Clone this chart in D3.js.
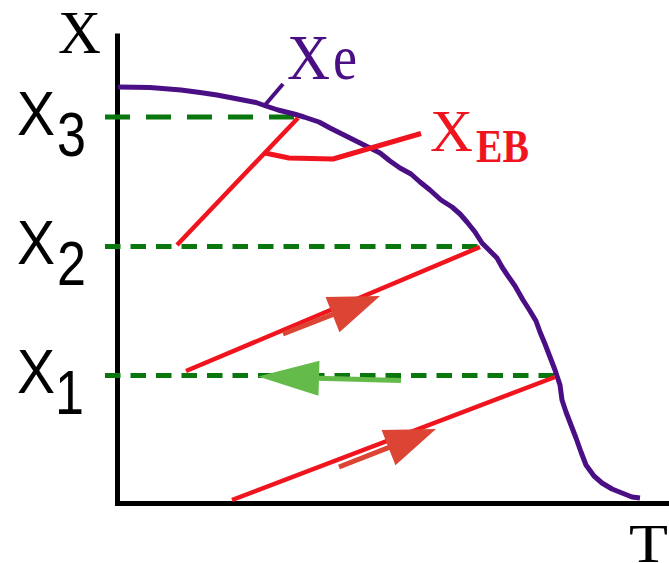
<!DOCTYPE html>
<html>
<head>
<meta charset="utf-8">
<script src="https://cdn.jsdelivr.net/npm/d3@7"></script>
<style>
  html, body { margin: 0; padding: 0; background: #fff; }
  svg { display: block; }
</style>
</head>
<body>
<svg id="chart" width="669" height="563"></svg>
<script>
// Moisture content X versus temperature T: equilibrium curve Xe,
// operating lines and the characteristic levels X1, X2, X3.

// Characteristic levels on the X axis
const levelNames = ["X", "X", "X"];
const levelSubs = ["1", "2", "3"];
const levelValues = [25.5, 51.3, 77.2];
const levelEndT = [87.6, 72.6, 36.8];

// Equilibrium curve Xe(T)
const curveT = [0.2, 6.6, 12.8, 16.6, 20, 22.6, 25.2, 27.8, 29.8, 32.2, 35.4, 37.4,
  40.4, 42.6, 44.6, 46.6, 48.6, 50.6, 52.6, 54.6, 56.6, 58.8, 60.6, 62.6, 64.8, 67,
  68.6, 70, 71.6, 73, 74.6, 76, 77, 78.2, 79.6, 81.2, 82.6, 83.8, 84.6, 85.6, 86.6,
  87.6, 88.6, 89, 89.8, 90.8, 91.8, 92.8, 93.8, 95.4, 97, 99, 101, 103, 104.6];
const curveX = [83.2, 83.1, 82.6, 82.1, 81.6, 81.1, 80.6, 80.1, 79.4, 78.6, 77.8, 77.2,
  76.2, 75, 74, 73, 72, 71, 70, 68.4, 67, 65.8, 64.2, 62.6, 60.6, 59.2,
  57.8, 56.2, 54.2, 52, 50.4, 49, 47.2, 45.4, 43.4, 40.6, 38.4, 36.4, 34.2, 31.8, 29.2,
  26.6, 23.6, 20.6, 18.2, 15.6, 13, 10.2, 7.6, 5.4, 4, 2.8, 2, 1.2, 1];

// Leader from the Xe label to the curve
const xeLeaderT = [33.2, 29.6];
const xeLeaderX = [83.8, 79.6];

// Operating lines (red)
const line1T = [23.0, 87.6];
const line1X = [0.6, 25.2];
const line2T = [13.8, 72.6];
const line2X = [26.4, 51.2];
const line3T = [12.0, 36.2];
const line3X = [51.6, 77.0];

// Leader from the XEB label to line 3
const ebLeaderT = [29.6, 34.4, 43.2, 60.8];
const ebLeaderX = [70.0, 69.0, 68.8, 73.9];

// Direction arrows: start point and tip
const arrowFromT = [44.4, 33.2, 56.8];
const arrowFromX = [7.2, 33.8, 24.5];
const arrowTipT = [63.8, 52.6, 28.2];
const arrowTipX = [14.8, 41.4, 25.3];
const arrowKind = ["up", "up", "back"];

// ---- drawing ----
const svg = d3.select("#chart");
const x = d3.scaleLinear().domain([0, 110.4]).range([117, 669]);
const y = d3.scaleLinear().domain([0, 94]).range([503, 33]);

const C = {
  axis: "#000",
  curve: "#4b0f85",
  red: "#f0141e",
  arrow: "#dc4433",
  back: "#64bb4a",
  level: "#0a760e"
};
const levelDash = ["15.5 10", "15.5 10", "25 16"];

const line = d3.line().x(d => x(d[0])).y(d => y(d[1]));
const zipPts = (ts, xs) => ts.map((t, i) => [t, xs[i]]);

// Axes (domain lines only)
const yAxis = d3.axisLeft(y).tickValues([]).tickSizeOuter(0);
const xAxis = d3.axisBottom(x).tickValues([]).tickSizeOuter(0);
svg.append("g").attr("transform", `translate(${x(0)},0)`).call(yAxis)
  .call(g => g.select(".domain").attr("stroke", C.axis).attr("stroke-width", 5));
svg.append("g").attr("transform", `translate(0,${y(0)})`).call(xAxis)
  .call(g => g.select(".domain").attr("stroke", C.axis).attr("stroke-width", 5)
    .attr("stroke-linecap", "square"));

// Dashed level lines
svg.append("g").selectAll("line").data(levelValues).join("line")
  .attr("x1", x(-2.4)).attr("x2", (d, i) => x(levelEndT[i]))
  .attr("y1", d => y(d)).attr("y2", d => y(d))
  .attr("stroke", C.level).attr("stroke-width", 5)
  .attr("stroke-dasharray", (d, i) => levelDash[i]);

// Equilibrium curve
svg.append("path").datum(zipPts(curveT, curveX))
  .attr("d", line).attr("fill", "none")
  .attr("stroke", C.curve).attr("stroke-width", 5).attr("stroke-linejoin", "round");
svg.append("path").datum(zipPts(xeLeaderT, xeLeaderX))
  .attr("d", line).attr("fill", "none")
  .attr("stroke", C.curve).attr("stroke-width", 4);

// Operating lines
[[line1T, line1X], [line2T, line2X], [line3T, line3X]].forEach(([ts, xs]) => {
  svg.append("path").datum(zipPts(ts, xs))
    .attr("d", line).attr("fill", "none")
    .attr("stroke", C.red).attr("stroke-width", 4.5);
});
svg.append("path").datum(zipPts(ebLeaderT, ebLeaderX))
  .attr("d", line).attr("fill", "none")
  .attr("stroke", C.red).attr("stroke-width", 5).attr("stroke-linejoin", "round");

// Arrows
const arrowStyle = {
  up: { color: C.arrow, len: 51, half: 19, w: 5 },
  back: { color: C.back, len: 61, half: 17.5, w: 5 }
};
arrowKind.forEach((k, i) => {
  const s = arrowStyle[k];
  const x0 = x(arrowFromT[i]), y0 = y(arrowFromX[i]);
  const x1 = x(arrowTipT[i]), y1 = y(arrowTipX[i]);
  const dx = x1 - x0, dy = y1 - y0, L = Math.hypot(dx, dy);
  const ux = dx / L, uy = dy / L, nx = -uy, ny = ux;
  const bx = x1 - ux * s.len, by = y1 - uy * s.len;
  svg.append("line")
    .attr("x1", x0).attr("y1", y0).attr("x2", bx + ux * 2).attr("y2", by + uy * 2)
    .attr("stroke", s.color).attr("stroke-width", s.w);
  svg.append("path")
    .attr("d", `M${x1},${y1}L${bx + nx * s.half},${by + ny * s.half}L${bx - nx * s.half},${by - ny * s.half}Z`)
    .attr("fill", s.color);
});

// Level labels X1, X2, X3
const sans = "Liberation Sans, Arial, sans-serif";
const lab = svg.append("g").selectAll("g").data(levelValues).join("g");
lab.append("text")
  .attr("x", 17).attr("y", d => y(d) + 17.5)
  .attr("textLength", 38).attr("lengthAdjust", "spacingAndGlyphs")
  .attr("font-family", sans).attr("font-size", 63)
  .attr("fill", "#000").text((d, i) => levelNames[i]);
lab.append("text")
  .attr("x", (d, i) => i === 0 ? 55 : 57).attr("y", d => y(d) + 38.5)
  .attr("textLength", 29).attr("lengthAdjust", "spacingAndGlyphs")
  .attr("font-family", sans).attr("font-size", 63)
  .attr("fill", "#000").text((d, i) => levelSubs[i]);

// Axis titles
const serif = "Liberation Serif, DejaVu Serif, serif";
function glyph(txt, x0, base, size, len, color, bold) {
  svg.append("text").attr("x", x0).attr("y", base)
    .attr("textLength", len).attr("lengthAdjust", "spacingAndGlyphs")
    .attr("font-family", serif).attr("font-size", size)
    .attr("font-weight", bold ? "bold" : "normal")
    .attr("fill", color).text(txt);
}
glyph("X", 58, 53, 62, 43, "#000");
glyph("T", 629, 562, 54, 39, "#000");

// Curve labels
glyph("X", 287, 79, 63, 43, C.curve);
glyph("e", 333, 79, 64, 24, C.curve);
glyph("X", 430, 151, 60, 43, C.red);
glyph("EB", 476, 162, 46, 53, C.red, true);
</script>
</body>
</html>
